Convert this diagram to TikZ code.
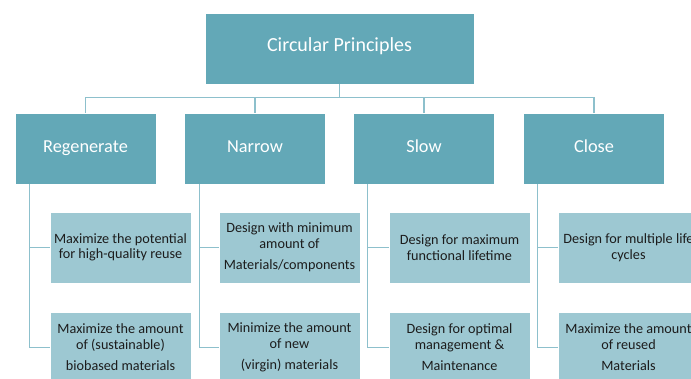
\documentclass[tikz,border=0pt]{standalone}
\usepackage{fontspec}
\setmainfont{Carlito}
\definecolor{darkteal}{HTML}{63A8B7}
\definecolor{lightteal}{HTML}{9DC8D2}
\definecolor{linecol}{HTML}{8DC0CC}
\definecolor{txtdark}{HTML}{1C1C1C}
\begin{document}
\begin{tikzpicture}[x=1pt,y=-1pt,
  topbox/.style={fill=darkteal,draw=white,line width=0.8pt,minimum width=269pt,minimum height=71pt,text=white,font=\fontsize{20}{24}\selectfont,inner sep=0pt,text height=0.8em,text depth=0.2em},
  lvlbox/.style={fill=darkteal,draw=white,line width=0.8pt,minimum width=141pt,minimum height=71pt,text=white,font=\fontsize{18.3}{22}\selectfont,inner sep=0pt,text height=0.85em,text depth=0.14em},
  childbox/.style={fill=lightteal,draw=white,line width=0.8pt,minimum width=141pt,minimum height=71pt,text=txtdark,font=\fontsize{14.2}{15.5}\selectfont,align=center,inner sep=0pt},
  conn/.style={draw=linecol,line width=1.2pt}]
\useasboundingbox (0,0) rectangle (691,378);
\fill[white] (0,0) rectangle (691,378);
% top
\node[topbox] (top) at (339.5,48.5) {Circular Principles};
% level 2
\node[lvlbox] (reg) at (85.5,148.5) {Regenerate};
\node[lvlbox] (nar) at (255,148.5) {Narrow};
\node[lvlbox] (slo) at (424,148.5) {Slow};
\node[lvlbox] (clo) at (594,148.5) {Close};
% children
\node[childbox] (reg1) at (120.5,247.5) {Maximize the potential\\for high-quality reuse};
\node[childbox] (reg2) at (120.5,347.5) {Maximize the amount\\of (sustainable)\\[6pt]biobased materials};
\node[childbox] (nar1) at (289.5,247.5) {Design with minimum\\amount of\\[6pt]Materials/components};
\node[childbox] (nar2) at (289.5,347.5) {Minimize the amount\\of new\\[6pt](virgin) materials};
\node[childbox] (slo1) at (459.5,247.5) {Design for maximum\\functional lifetime};
\node[childbox] (slo2) at (459.5,347.5) {Design for optimal\\management \&\\[6pt]Maintenance};
\node[childbox] (clo1) at (628.5,247.5) {Design for multiple life\\cycles};
\node[childbox] (clo2) at (628.5,347.5) {Maximize the amount\\of reused\\[6pt]Materials};
% connectors top
\draw[conn] (top.south) -- ++(0,14);
\draw[conn] (reg.north) -- ++(0,-15) -| (clo.north);
\draw[conn] (nar.north) -- ++(0,-15);
\draw[conn] (slo.north) -- ++(0,-15);
% connectors children
\coordinate (regv) at ([xshift=15pt]reg.south west);
\coordinate (narv) at ([xshift=15pt]nar.south west);
\coordinate (slov) at ([xshift=14pt]slo.south west);
\coordinate (clov) at ([xshift=14pt]clo.south west);
\draw[conn] (regv) |- (reg1.west);
\draw[conn] (regv) |- (reg2.west);
\draw[conn] (narv) |- (nar1.west);
\draw[conn] (narv) |- (nar2.west);
\draw[conn] (slov) |- (slo1.west);
\draw[conn] (slov) |- (slo2.west);
\draw[conn] (clov) |- (clo1.west);
\draw[conn] (clov) |- (clo2.west);
\end{tikzpicture}
\end{document}
